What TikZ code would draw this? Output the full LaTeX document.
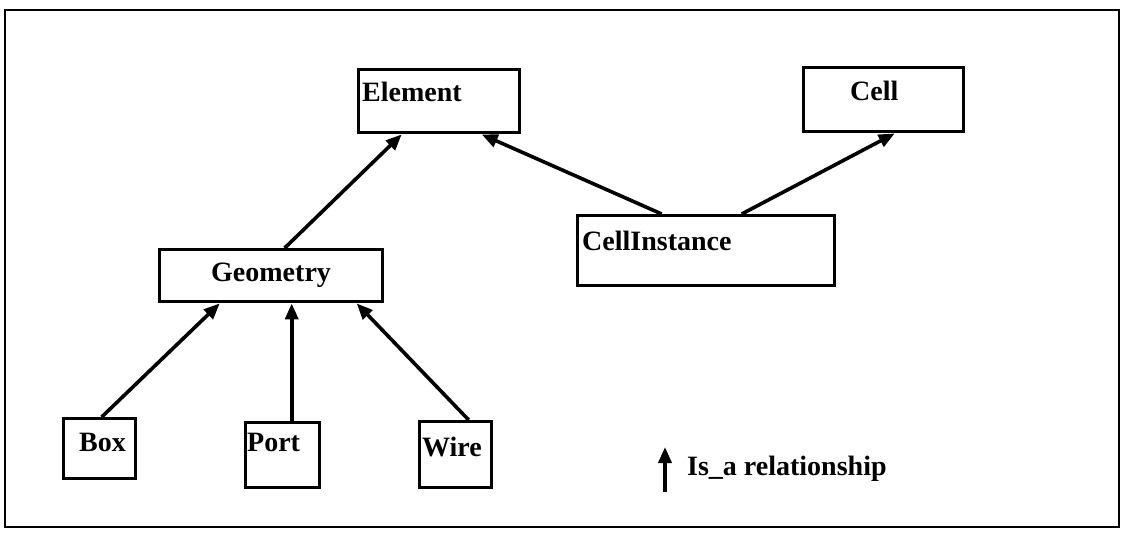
\documentclass[tikz,border=0pt]{standalone}
\usepackage{fontspec}
\setmainfont{Liberation Serif}
\usetikzlibrary{arrows.meta}
\begin{document}
\begin{tikzpicture}[x=1pt,y=-1pt,
  box/.style={draw,line width=3.4pt,inner sep=0pt,anchor=north west},
  lbl/.style={inner sep=0pt,anchor=base west,font=\fontsize{28}{32}\selectfont\bfseries},
  isa/.style={line width=3.6pt,-{Triangle[length=16pt,width=13pt]}}]
  \useasboundingbox (0,0) rectangle (1123,533);
  % outer frame
  \draw[line width=2.6pt] (5,10) rectangle (1119,527);

  % class boxes
  \node[box,minimum width=161pt,minimum height=63pt] (element) at (357,68) {};
  \node[box,minimum width=160pt,minimum height=64pt] (cell) at (802,66) {};
  \node[box,minimum width=223pt,minimum height=52pt] (geometry) at (158,248) {};
  \node[box,minimum width=257pt,minimum height=70pt] (cellinst) at (576,214) {};
  \node[box,minimum width=72pt,minimum height=60pt] (boxc) at (62,417) {};
  \node[box,minimum width=74pt,minimum height=65pt] (port) at (244,421) {};
  \node[box,minimum width=72pt,minimum height=66pt] (wire) at (418,420) {};

  % class names
  \node[lbl] (telement) at (362,101) {Element};
  \node[lbl] (tcell) at (850,100) {Cell};
  \node[lbl] (tgeometry) at (211,281) {Geometry};
  \node[lbl] (tcellinst) at (582,250) {CellInstance};
  \node[lbl] (tbox) at (79,451) {Box};
  \node[lbl] (tport) at (247,451) {Port};
  \node[lbl] (twire) at (422,456) {Wire};

  % is-a relationships
  \draw[isa] ([xshift=13.5pt]geometry.north) -- ([xshift=-37.5pt]element.south);
  \draw[isa] ([xshift=-44.5pt]cellinst.north) -- ([xshift=42.5pt]element.south);
  \draw[isa] ([xshift=35.5pt]cellinst.north) -- ([xshift=11pt]cell.south);
  \draw[isa] ([xshift=2pt]boxc.north) -- ([xshift=-51.5pt]geometry.south);
  \draw[isa] ([xshift=9pt]port.north) -- ([xshift=20.5pt]geometry.south);
  \draw[isa] ([xshift=13pt]wire.north) -- ([xshift=85.5pt]geometry.south);

  % legend
  \coordinate (legA) at (665,492);
  \coordinate (legB) at (665,447);
  \draw[isa] (legA) -- (legB);
  \node[lbl] (tlegend) at (687,475) {Is\_a relationship};
\end{tikzpicture}
\end{document}
